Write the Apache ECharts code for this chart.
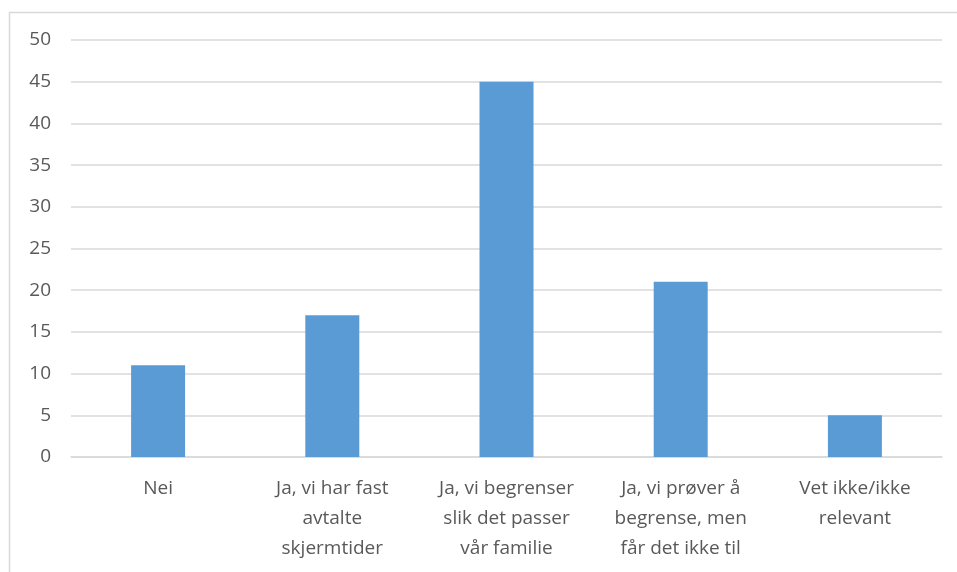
<!DOCTYPE html>
<html>
<head>
<meta charset="utf-8">
<script src="https://cdn.jsdelivr.net/npm/echarts@6/dist/echarts.min.js"></script>
<style>
  html, body { margin: 0; padding: 0; background: #fff; }
  #chart { width: 957px; height: 572px; }
</style>
</head>
<body>
<div id="chart"></div>
<script>
// Answer categories (line breaks as shown under each bar)
const categories = [
  'Nei',
  'Ja, vi har fast\navtalte\nskjermtider',
  'Ja, vi begrenser\nslik det passer\nvår familie',
  'Ja, vi prøver å\nbegrense, men\nfår det ikke til',
  'Vet ikke/ikke\nrelevant'
];
// Share of respondents per answer
const values = [11, 17, 45, 21, 5];
// Value axis range
const yMin = 0;
const yMax = 50;
const yStep = 5;

const chart = echarts.init(document.getElementById('chart'), null, { renderer: 'canvas' });
chart.setOption({
  backgroundColor: '#ffffff',
  animation: false,
  graphic: [{
    type: 'rect',
    shape: { x: 9.5, y: 12.5, width: 1000, height: 600 },
    style: { fill: 'none', stroke: '#d9d9d9', lineWidth: 1.5 },
    silent: true
  }],
  grid: { left: 71, right: 15, top: 40, bottom: 115, containLabel: false },
  xAxis: {
    type: 'category',
    data: categories,
    axisLine: { lineStyle: { color: '#d9d9d9', width: 1.5 } },
    axisTick: { show: false },
    axisLabel: {
      interval: 0,
      margin: 17,
      color: '#595959',
      fontFamily: 'Open Sans',
      fontSize: 19,
      lineHeight: 30
    }
  },
  yAxis: {
    type: 'value',
    min: yMin,
    max: yMax,
    interval: yStep,
    axisLine: { show: false },
    axisTick: { show: false },
    splitLine: { lineStyle: { color: '#d9d9d9', width: 1.5 } },
    axisLabel: {
      margin: 20,
      color: '#595959',
      fontFamily: 'Open Sans',
      fontSize: 19
    }
  },
  series: [{
    type: 'bar',
    data: values,
    barWidth: 54,
    itemStyle: { color: '#5b9bd5' }
  }]
});
</script>
</body>
</html>
